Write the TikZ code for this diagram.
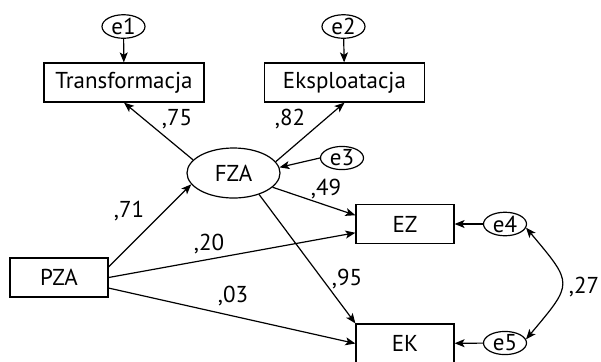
\documentclass[tikz,border=0pt]{standalone}
\usepackage{fontspec}
\setmainfont{PT Sans}
\usetikzlibrary{arrows.meta, shapes.geometric}

\begin{document}
\begin{tikzpicture}[
    x=0.5pt, y=-0.5pt,
    line width=0.6pt,
    font=\fontsize{11.5}{13}\selectfont,
    >={Stealth[length=5pt, width=4pt, inset=1.2pt]},
    obsbox/.style={
        draw,
        rectangle,
        minimum width=49pt,
        minimum height=19.5pt,
        inner sep=0pt
    },
    widebox/.style={
        obsbox,
        minimum width=80pt
    },
    latent/.style={
        draw,
        ellipse,
        minimum width=46.5pt,
        minimum height=25pt,
        inner sep=0pt
    },
    errnode/.style={
        draw,
        ellipse,
        minimum width=21.5pt,
        minimum height=11.5pt,
        inner sep=0pt
    },
    coef/.style={
        inner sep=0pt
    }
]

    \useasboundingbox (0,0) rectangle (601,361);

    % Nodes Placement

    % Indicators of FZA
    \node[widebox] (transf) at (124, 82.5) {Transformacja};
    \node[widebox] (ekspl) at (344.5, 82.5) {Eksploatacja};

    % Latent and exogenous variables
    \node[latent] (fza) at (233.5, 173) {FZA};
    \node[obsbox] (pza) at (59, 277.5) {PZA};

    % Outcomes
    \node[obsbox] (ez) at (405, 224) {EZ};
    \node[obsbox] (ek) at (405, 343.5) {EK};

    % Error terms
    \node[errnode] (e1) at (123.5, 26.5) {e1};
    \node[errnode] (e2) at (343.5, 26.5) {e2};
    \node[errnode] (e3) at (342, 158) {e3};
    \node[errnode] (e4) at (505, 224) {e4};
    \node[errnode] (e5) at (505, 343) {e5};

    % Connections

    % Errors -> indicators
    \draw[->] (e1) -- (transf);
    \draw[->] (e2) -- (ekspl);
    \draw[->] (e3.west) -- (fza.7);
    \draw[->] (e4) -- (ez);
    \draw[->] (e5) -- (ek);

    % FZA -> indicators
    \draw[->] (fza.162) -- (transf.south);
    \draw[->] (fza.15) -- (ekspl.south);

    % PZA -> FZA, EZ, EK
    \draw[->] (pza.12) -- (fza.195);
    \draw[->] (pza.east) -- (ez.190);
    \draw[->] (pza.-12) -- (ek.west);

    % FZA -> EZ, EK
    \draw[->] (fza.-20) -- (ez.170);
    \draw[->] (fza.-40) -- (ek.north west);

    % Covariance e4 <-> e5
    \draw[<->] (e4.-10) to[out=-50, in=50, looseness=1.7] (e5.10);

    % Coefficients
    \node[coef] (c75) at (177, 119) {,75};
    \node[coef] (c82) at (290, 119) {,82};
    \node[coef] (c71) at (129, 211) {,71};
    \node[coef] (c20) at (209, 244) {,20};
    \node[coef] (c03) at (233, 296) {,03};
    \node[coef] (c49) at (326, 189) {,49};
    \node[coef] (c95) at (347, 279) {,95};
    \node[coef] (c27) at (584, 287) {,27};

\end{tikzpicture}
\end{document}
